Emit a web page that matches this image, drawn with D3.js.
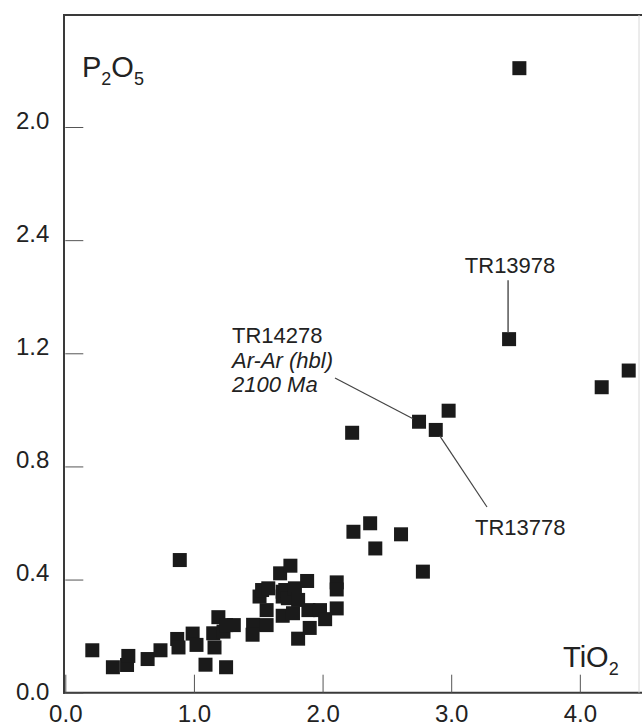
<!DOCTYPE html>
<html>
<head>
<meta charset="utf-8">
<script src="https://cdn.jsdelivr.net/npm/d3@7/dist/d3.min.js"></script>
<style>
  html, body { margin: 0; padding: 0; background: #fff; }
  svg { display: block; font-family: "Liberation Sans", Arial, sans-serif; }
</style>
</head>
<body>
<svg id="chart" width="642" height="727"></svg>
<script>
// TiO2 (wt%) values
const tio2 = [
  0.21, 0.37, 0.48, 0.49, 0.64, 0.74, 0.89, 0.87, 0.88, 0.99, 1.02, 1.09, 1.15, 1.16, 1.19, 1.23, 1.25, 1.25, 1.31,
  1.46, 1.456, 1.51, 1.53, 1.565, 1.565, 1.578, 1.67, 1.69, 1.69, 1.69, 1.71, 1.73, 1.75, 1.77, 1.785, 1.81, 1.81,
  1.88, 1.89, 1.90, 1.98, 2.02, 2.11, 2.11, 2.11,
  2.23, 2.24, 2.37, 2.41, 2.61, 2.78, 2.75, 2.88, 2.98, 3.45, 3.53, 4.17, 4.38
];
// P2O5 (wt%) values
const p2o5 = [
  0.150, 0.090, 0.098, 0.130, 0.119, 0.150, 0.469, 0.190, 0.160, 0.209, 0.169, 0.099, 0.210, 0.160, 0.267, 0.216, 0.090, 0.239, 0.239,
  0.240, 0.205, 0.340, 0.363, 0.292, 0.239, 0.369, 0.422, 0.357, 0.340, 0.272, 0.363, 0.334, 0.449, 0.281, 0.369, 0.328, 0.191,
  0.395, 0.292, 0.229, 0.292, 0.260, 0.390, 0.365, 0.298,
  0.919, 0.569, 0.599, 0.510, 0.560, 0.428, 0.958, 0.929, 0.997, 1.250, 2.208, 1.080, 1.139
];

const xTicks = [0, 1, 2, 3, 4];
const xTickLabels = ["0.0", "1.0", "2.0", "3.0", "4.0"];
const yTicks = [0, 0.4, 0.8, 1.2, 1.6, 2.0];
const yTickLabels = ["0.0", "0.4", "0.8", "1.2", "2.4", "2.0"];

// labelled samples
const labelNames = ["TR13978", "TR14278", "TR13778"];
const labelTiO2 = [3.45, 2.75, 2.88];
const labelP2O5 = [1.250, 0.958, 0.929];

const points = tio2.map((v, i) => ({ x: v, y: p2o5[i] }));

const svg = d3.select("#chart");
const x = d3.scaleLinear().domain([0, 4.46]).range([65.3, 639]);
const y = d3.scaleLinear().domain([0, 2.396]).range([692.7, 15]);

const ink = "#222";
const line = "#3a3a3a";

// frame
svg.append("line").attr("x1", 64).attr("x2", 642).attr("y1", y(2.396)).attr("y2", y(2.396))
  .attr("stroke", line).attr("stroke-width", 2);
svg.append("line").attr("x1", 64).attr("x2", 64).attr("y1", y(2.396) - 1).attr("y2", y(0) + 1)
  .attr("stroke", line).attr("stroke-width", 2);
svg.append("line").attr("x1", 63).attr("x2", 642).attr("y1", y(0)).attr("y2", y(0))
  .attr("stroke", line).attr("stroke-width", 2);
svg.append("line").attr("x1", x(4.46)).attr("x2", x(4.46)).attr("y1", y(2.396)).attr("y2", y(0))
  .attr("stroke", "#d8d8d8").attr("stroke-width", 1);

// x axis
const xAxis = d3.axisBottom(x).tickValues(xTicks)
  .tickFormat((d, i) => xTickLabels[i]).tickSizeInner(-18).tickSizeOuter(0).tickPadding(12);
const gx = svg.append("g").attr("transform", `translate(0,${y(0)})`).call(xAxis);
gx.select(".domain").remove();
gx.selectAll(".tick line").attr("stroke", "#555").attr("stroke-width", 1);
gx.selectAll(".tick text").attr("fill", ink).attr("font-size", 24)
  .attr("font-family", "Liberation Sans, Arial, sans-serif");

// y axis
const yAxis = d3.axisLeft(y).tickValues(yTicks)
  .tickFormat((d, i) => yTickLabels[i]).tickSizeInner(-18).tickSizeOuter(0).tickPadding(16);
const gy = svg.append("g").attr("transform", `translate(${x(0)},0)`).call(yAxis);
gy.select(".domain").remove();
gy.selectAll(".tick line").attr("stroke", "#555").attr("stroke-width", 1);
gy.selectAll(".tick text").attr("fill", ink).attr("font-size", 24)
  .attr("font-family", "Liberation Sans, Arial, sans-serif")
  .attr("dy", (d, i) => i === 0 ? "0.3em" : "0.05em");

// axis titles
const pt = svg.append("text").attr("x", 82).attr("y", 77).attr("fill", ink).attr("font-size", 29);
pt.append("tspan").text("P");
pt.append("tspan").attr("font-size", 18).attr("dy", 8).text("2");
pt.append("tspan").attr("dy", -8).text("O");
pt.append("tspan").attr("font-size", 18).attr("dy", 8).text("5");

const tt = svg.append("text").attr("x", 563).attr("y", 667).attr("fill", ink).attr("font-size", 29);
tt.append("tspan").text("TiO");
tt.append("tspan").attr("font-size", 18).attr("dy", 8).text("2");

// points
const s = 14;
svg.append("g").selectAll("rect").data(points).join("rect")
  .attr("x", d => x(d.x) - s / 2).attr("y", d => y(d.y) - s / 2)
  .attr("width", s).attr("height", s).attr("fill", "#1a1a1a");

// annotations
const ann = svg.append("g").attr("fill", ink).attr("font-size", 22);
// TR13978
const p0 = { x: x(labelTiO2[0]), y: y(labelP2O5[0]) };
svg.append("line").attr("x1", p0.x - 1).attr("x2", p0.x - 1).attr("y1", p0.y - 59).attr("y2", p0.y - 7)
  .attr("stroke", "#555").attr("stroke-width", 1.5);
ann.append("text").attr("x", p0.x + 1).attr("y", p0.y - 66).attr("text-anchor", "middle").text(labelNames[0]);

// TR14278
const p1 = { x: x(labelTiO2[1]), y: y(labelP2O5[1]) };
svg.append("line").attr("x1", 335).attr("y1", 378).attr("x2", p1.x - 6).attr("y2", p1.y - 3)
  .attr("stroke", "#444").attr("stroke-width", 1.2);
ann.append("text").attr("x", 232).attr("y", 343).text(labelNames[1]);
ann.append("text").attr("x", 232).attr("y", 368).attr("font-style", "italic").text("Ar-Ar (hbl)");
ann.append("text").attr("x", 232).attr("y", 392).attr("font-style", "italic").text("2100 Ma");

// TR13778
const p2 = { x: x(labelTiO2[2]), y: y(labelP2O5[2]) };
svg.append("line").attr("x1", p2.x + 4).attr("y1", p2.y + 6).attr("x2", 487).attr("y2", 507)
  .attr("stroke", "#444").attr("stroke-width", 1.2);
ann.append("text").attr("x", 475).attr("y", 535).text(labelNames[2]);
</script>
</body>
</html>
